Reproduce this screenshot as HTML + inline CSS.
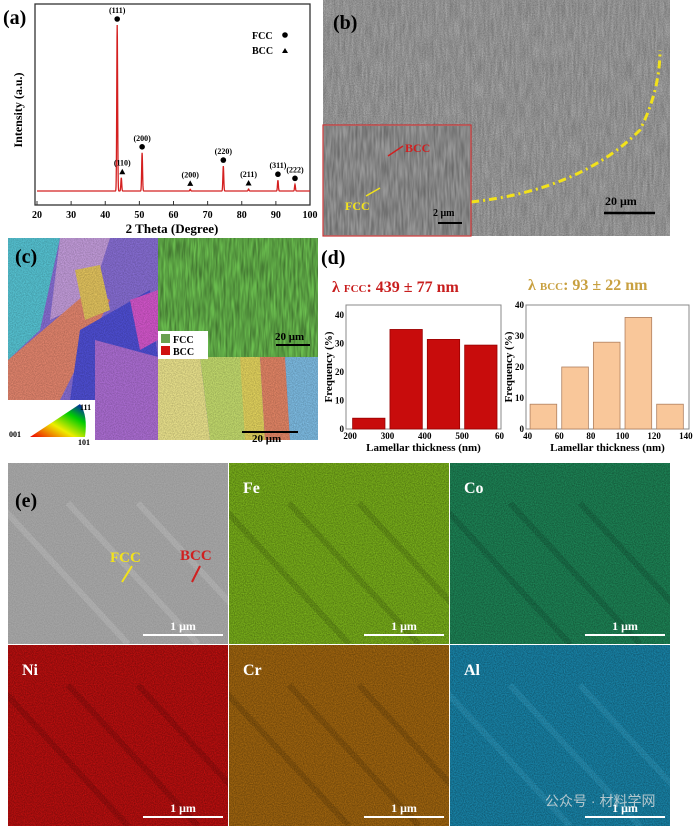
<!DOCTYPE html>
<html><head><meta charset="utf-8">
<style>
body{margin:0;width:693px;height:829px;background:#fff;overflow:hidden;font-family:"Liberation Serif",serif;position:relative}
.lbl{font-weight:bold;font-family:"Liberation Serif",serif}
</style></head>
<body>
<svg id="fig" width="693" height="829" viewBox="0 0 693 829" xmlns="http://www.w3.org/2000/svg" style="position:absolute;left:0;top:0">
<defs id="defs">
 <filter id="noise" x="0" y="0" width="100%" height="100%"><feTurbulence type="fractalNoise" baseFrequency="0.9" numOctaves="2" seed="3"/><feColorMatrix type="matrix" values="0 0 0 0 0  0 0 0 0 0  0 0 0 0 0  0 0 0 -1.2 1.0"/></filter>
 <filter id="stripes" x="0" y="0" width="100%" height="100%"><feTurbulence type="fractalNoise" baseFrequency="0.5 0.05" numOctaves="2" seed="7"/><feColorMatrix type="matrix" values="0 0 0 0 0  0 0 0 0 0  0 0 0 0 0  0 0 0 -1.4 1.1"/></filter>
 <linearGradient id="ipf" x1="0" y1="1" x2="1" y2="0"><stop offset="0" stop-color="#e00"/><stop offset="0.4" stop-color="#ee0"/><stop offset="0.7" stop-color="#0c0"/><stop offset="1" stop-color="#00c"/></linearGradient>
</defs>

<!-- Panel (a) XRD -->
<g>
 <rect x="35" y="4" width="275" height="201" fill="#fff" stroke="#333" stroke-width="1.3"/>
 <g id="xrdTicks"></g>
 <path id="xrdLine" fill="none" stroke="#d42020" stroke-width="1.3"/>
 <g id="xrdMarks"></g>
 <text x="3" y="24" font-size="20" class="lbl">(a)</text>
 <text x="22" y="110" font-size="12" class="lbl" transform="rotate(-90 22 110)" text-anchor="middle">Intensity (a.u.)</text>
 <text x="172" y="233" font-size="13" class="lbl" text-anchor="middle">2 Theta (Degree)</text>
 <text x="252" y="39" font-size="10" class="lbl">FCC</text>
 <circle cx="285" cy="35" r="2.8" fill="#000"/>
 <text x="252" y="54" font-size="10" class="lbl">BCC</text>
 <path d="M282,53 L288,53 L285,48 Z" fill="#000"/>
</g>

<!-- Panel (b) SEM -->
<g>
 <rect x="323" y="0" width="347" height="236" fill="#b0b0b0"/>
 <rect x="323" y="0" width="347" height="236" fill="#555" filter="url(#noise)" opacity="0.3"/>
 <rect x="323" y="0" width="347" height="236" fill="#333" filter="url(#stripes)" opacity="0.2"/>
 <path d="M471,202 Q580,190 640,130 Q660,90 660,50" fill="none" stroke="#f2e21a" stroke-width="3" stroke-dasharray="8,4,2,4"/>
 <rect x="323" y="125" width="148" height="111" fill="#999" stroke="#c33" stroke-width="1.2"/>
 <rect x="324" y="126" width="146" height="109" fill="#333" filter="url(#stripes)" opacity="0.35"/>
 <text x="405" y="152" font-size="12" class="lbl" fill="#d02020">BCC</text>
 <path d="M403,146 L388,156" stroke="#d02020" stroke-width="1.5"/>
 <text x="345" y="210" font-size="12" class="lbl" fill="#f2e21a">FCC</text>
 <path d="M366,196 L380,188" stroke="#f2e21a" stroke-width="1.5"/>
 <text x="433" y="216" font-size="10" class="lbl">2 μm</text>
 <line x1="438" y1="223" x2="462" y2="223" stroke="#000" stroke-width="2"/>
 <text x="605" y="205" font-size="12" class="lbl">20 μm</text>
 <line x1="604" y1="213" x2="655" y2="213" stroke="#000" stroke-width="2.5"/>
 <text x="333" y="29" font-size="20" class="lbl">(b)</text>
</g>

<!-- Panel (c) EBSD -->
<g>
 <rect x="8" y="238" width="310" height="202" fill="#8a70d8"/>
 <polygon points="8,238 60,238 40,330 8,360" fill="#58c8d8"/>
 <polygon points="60,238 110,238 90,300 50,320" fill="#c8a0e0"/>
 <polygon points="8,360 90,290 110,300 60,400 8,420" fill="#e88870"/>
 <polygon points="80,330 150,290 158,360 120,400 70,400" fill="#5050d8"/>
 <polygon points="75,270 100,265 110,310 85,320" fill="#e8c860"/>
 <polygon points="130,300 158,290 158,340 140,350" fill="#d858d0"/>
 <polygon points="158,357 200,357 210,440 150,440" fill="#f0e890"/>
 <polygon points="200,357 240,357 250,440 210,440" fill="#c8e070"/>
 <polygon points="240,357 260,357 265,440 245,440" fill="#e8d860"/>
 <polygon points="260,357 285,357 290,440 265,440" fill="#e88868"/>
 <polygon points="285,357 318,357 318,440 290,440" fill="#80c0e8"/>
 <polygon points="95,340 158,357 158,440 95,440" fill="#b070d8"/>
 <rect x="8" y="238" width="310" height="202" fill="#333" filter="url(#noise)" opacity="0.3"/>
 <rect x="158" y="238" width="160" height="119" fill="#6cc050"/>
 <rect x="158" y="238" width="160" height="119" fill="#8a4a20" filter="url(#stripes)" opacity="0.45"/>
 <rect x="158" y="331" width="50" height="28" fill="#fff"/>
 <rect x="161" y="334" width="9" height="9" fill="#6aa050"/>
 <text x="173" y="343" font-size="10" class="lbl">FCC</text>
 <rect x="161" y="346" width="9" height="9" fill="#d01010"/>
 <text x="173" y="355" font-size="10" class="lbl">BCC</text>
 <text x="275" y="340" font-size="11" class="lbl">20 μm</text>
 <line x1="276" y1="345" x2="310" y2="345" stroke="#000" stroke-width="2"/>
 <text x="252" y="442" font-size="11" class="lbl">20 μm</text>
 <line x1="242" y1="432" x2="298" y2="432" stroke="#000" stroke-width="2"/>
 <rect x="8" y="400" width="87" height="40" fill="#fff"/>
 <path d="M30,437 L85,437 Q88,415 80,404 Z" fill="url(#ipf)"/>
 <text x="9" y="437" font-size="8" class="lbl">001</text>
 <text x="80" y="410" font-size="8" class="lbl">111</text>
 <text x="78" y="445" font-size="8" class="lbl">101</text>
 <text x="15" y="263" font-size="20" class="lbl">(c)</text>
</g>

<!-- Panel (d) -->
<g>
 <text x="321" y="264" font-size="20" class="lbl">(d)</text>
 <text x="332" y="292" font-size="16" class="lbl" fill="#c81e1e">λ <tspan font-size="11">FCC</tspan>: 439 ± 77 nm</text>
 <text x="528" y="290" font-size="16" class="lbl" fill="#c8a040">λ <tspan font-size="11">BCC</tspan>: 93 ± 22 nm</text>
 <g id="histL"></g>
 <g id="histR"></g>
</g>

<!-- Panel (e) -->
<g id="eds"></g>
</svg>

<script>
const NS="http://www.w3.org/2000/svg";
function mk(tag,attrs,parent){const e=document.createElementNS(NS,tag);for(const k in attrs)e.setAttribute(k,attrs[k]);parent.appendChild(e);return e;}

// ---- XRD data ----
const xrdTickLabels=[20,30,40,50,60,70,80,90,100];
const peakPos=[43.5,44.7,50.8,64.9,74.6,82.0,90.6,95.6];
const peakHeight=[100,8,23,1,15,1.2,6.5,4];
const peakPhase=["FCC","BCC","FCC","BCC","FCC","BCC","FCC","FCC"];
const peakHkl=["(111)","(110)","(200)","(200)","(220)","(211)","(311)","(222)"];
const xX=v=>37+(v-20)*(273/80);
const yI=i=>191-i*1.66;
const tg=document.getElementById('xrdTicks');
xrdTickLabels.forEach(v=>{
 const l=mk('line',{x1:xX(v),x2:xX(v),y1:205,y2:201,stroke:'#333'},tg);
 
 
 const t=mk('text',{x:xX(v),y:218,'font-size':10,'font-weight':'bold','text-anchor':'middle'},tg);
 t.textContent=v;
 
 
});
let pathD="";
for(let v=20;v<=100;v+=0.05){
 let I=0;
 peakPos.forEach((p,k)=>{const z=(v-p)/0.18;I+=peakHeight[k]*Math.exp(-(z*z));});
 pathD+=(pathD?"L":"M")+xX(v).toFixed(2)+","+yI(I).toFixed(2);
}
document.getElementById('xrdLine').setAttribute('d',pathD);
const mg=document.getElementById('xrdMarks');
peakPos.forEach((p,k)=>{
 const cx=xX(p)+(k==1?1:0), cy=yI(peakHeight[k])-6;
 let m;
 if(peakPhase[k]=="FCC") m=mk('circle',{cx:cx,cy:cy,r:2.8,fill:'#000'},mg);
 else m=mk('path',{d:"M"+(cx-3)+","+(cy+2.5)+"L"+(cx+3)+","+(cy+2.5)+"L"+cx+","+(cy-3)+"Z",fill:'#000'},mg);
 
 
 const t=mk('text',{x:cx,y:cy-6,'font-size':8,'font-weight':'bold','text-anchor':'middle'},mg);
 t.textContent=peakHkl[k];
 
 
});

// ---- Histograms ----
const fccBins=[200,300,400,500];
const fccFreq=[3.8,35,31.5,29.5];
const fccXTicks=[200,300,400,500,600];
const fccYTicks=[0,10,20,30,40];
const bccBins=[40,60,80,100,120];
const bccFreq=[8,20,28,36,8];
const bccXTicks=[40,60,80,100,120,140];
const bccYTicks=[0,10,20,30,40];
function hist(g,fx,fy,fw,fh,xmin,xmax,ymax,bins,binW,freqs,xt,yt,fill,stroke,name){
 const X=v=>fx+(v-xmin)/(xmax-xmin)*fw;
 const Y=v=>fy+fh-v/ymax*fh;
 const fr=mk('rect',{x:fx,y:fy,width:fw,height:fh,fill:'#fff',stroke:'#888','stroke-width':1},g);
 
 
 bins.forEach((b,k)=>{
  const r=mk('rect',{x:X(b)+2.5,y:Y(freqs[k]),width:X(b+binW)-X(b)-5,height:Y(0)-Y(freqs[k]),fill:fill,stroke:stroke,'stroke-width':0.8},g);
  
  
 });
 xt.forEach(v=>{
  const t=mk('text',{x:X(v),y:fy+fh+10,'font-size':9,'font-weight':'bold','text-anchor':'middle'},g);
  t.textContent=(v==600?60:v);
  
  
 });
 yt.forEach(v=>{
  const t=mk('text',{x:fx-2,y:Y(v)+3,'font-size':9,'font-weight':'bold','text-anchor':'end'},g);
  t.textContent=v;
  
  
 });
 const yl=mk('text',{x:fx-14,y:fy+fh/2,'font-size':11,'font-weight':'bold','text-anchor':'middle',transform:"rotate(-90 "+(fx-14)+" "+(fy+fh/2)+")"},g);
 yl.textContent="Frequency (%)";
 
 
 const xl=mk('text',{x:fx+fw/2,y:fy+fh+22,'font-size':11,'font-weight':'bold','text-anchor':'middle'},g);
 xl.textContent="Lamellar thickness (nm)";
 
 
}
hist(document.getElementById('histL'),346,305,155,124,189,604,43.6,fccBins,100,fccFreq,fccXTicks,fccYTicks,'#c80c0c','#900','fcc-hist');
hist(document.getElementById('histR'),526,305,163,124,39,142,40,bccBins,20,bccFreq,bccXTicks,bccYTicks,'#f9c79a','#b08060','bcc-hist');

// ---- EDS maps ----
const edsNames=["(e)","Fe","Co","Ni","Cr","Al"];
const edsColors=["#a8a8a8","#7fb81c","#1f8a5a","#c41010","#a86a10","#1a8ab0"];
const eg=document.getElementById('eds');
const defs=document.getElementById('defs');
const colX=[8,229,450], rowY=[463,645], cw=220, ch=181;
edsNames.forEach((n,k)=>{
 const x=colX[k%3], y=rowY[Math.floor(k/3)];
 const cp=mk('clipPath',{id:'clip'+k},defs);
 mk('rect',{x:x,y:y,width:cw,height:ch},cp);
 const g=mk('g',{'clip-path':'url(#clip'+k+')'},eg);
 
 
 mk('rect',{x:x,y:y,width:cw,height:ch,fill:edsColors[k]},g);
 mk('rect',{x:x,y:y,width:cw,height:ch,fill:'#000',filter:'url(#noise)',opacity:k==0?0.15:0.45},g);
 for(let q=0;q<3;q++){mk('line',{x1:x+q*70-10,y1:y+40,x2:x+q*70+120,y2:y+ch,stroke:k==5?'#6fd0f0':(k==0?'#fff':'#000'),'stroke-width':6,opacity:0.12},g);}
 const t=mk('text',{x:x+(k==0?7:14),y:y+(k==0?44:30),'font-size':k==0?20:16,'font-weight':'bold',fill:k==0?'#000':'#fff'},g);
 t.textContent=n;
 
 
 const s=mk('text',{x:x+cw-45,y:y+ch-14,'font-size':12,'font-weight':'bold','text-anchor':'middle',fill:'#fff'},g);
 s.textContent="1 μm";
 
 
 const b=mk('line',{x1:x+cw-85,x2:x+cw-5,y1:y+ch-9,y2:y+ch-9,stroke:'#fff','stroke-width':2},g);
 
 
});
const a1=mk('text',{x:110,y:562,'font-size':15,'font-weight':'bold',fill:'#f2e21a'},eg);
a1.textContent="FCC";


mk('path',{d:'M132,566 L122,582',stroke:'#f2e21a','stroke-width':2},eg);
const a2=mk('text',{x:180,y:560,'font-size':15,'font-weight':'bold',fill:'#d02020'},eg);
a2.textContent="BCC";


mk('path',{d:'M200,566 L192,582',stroke:'#d02020','stroke-width':2},eg);
const wm=mk('text',{x:545,y:806,'font-size':14,fill:'#ddd',opacity:0.8,'font-family':'"Liberation Sans","Noto Sans CJK SC",sans-serif'},eg);
wm.textContent="公众号 · 材料学网";


</script>
</body></html>
